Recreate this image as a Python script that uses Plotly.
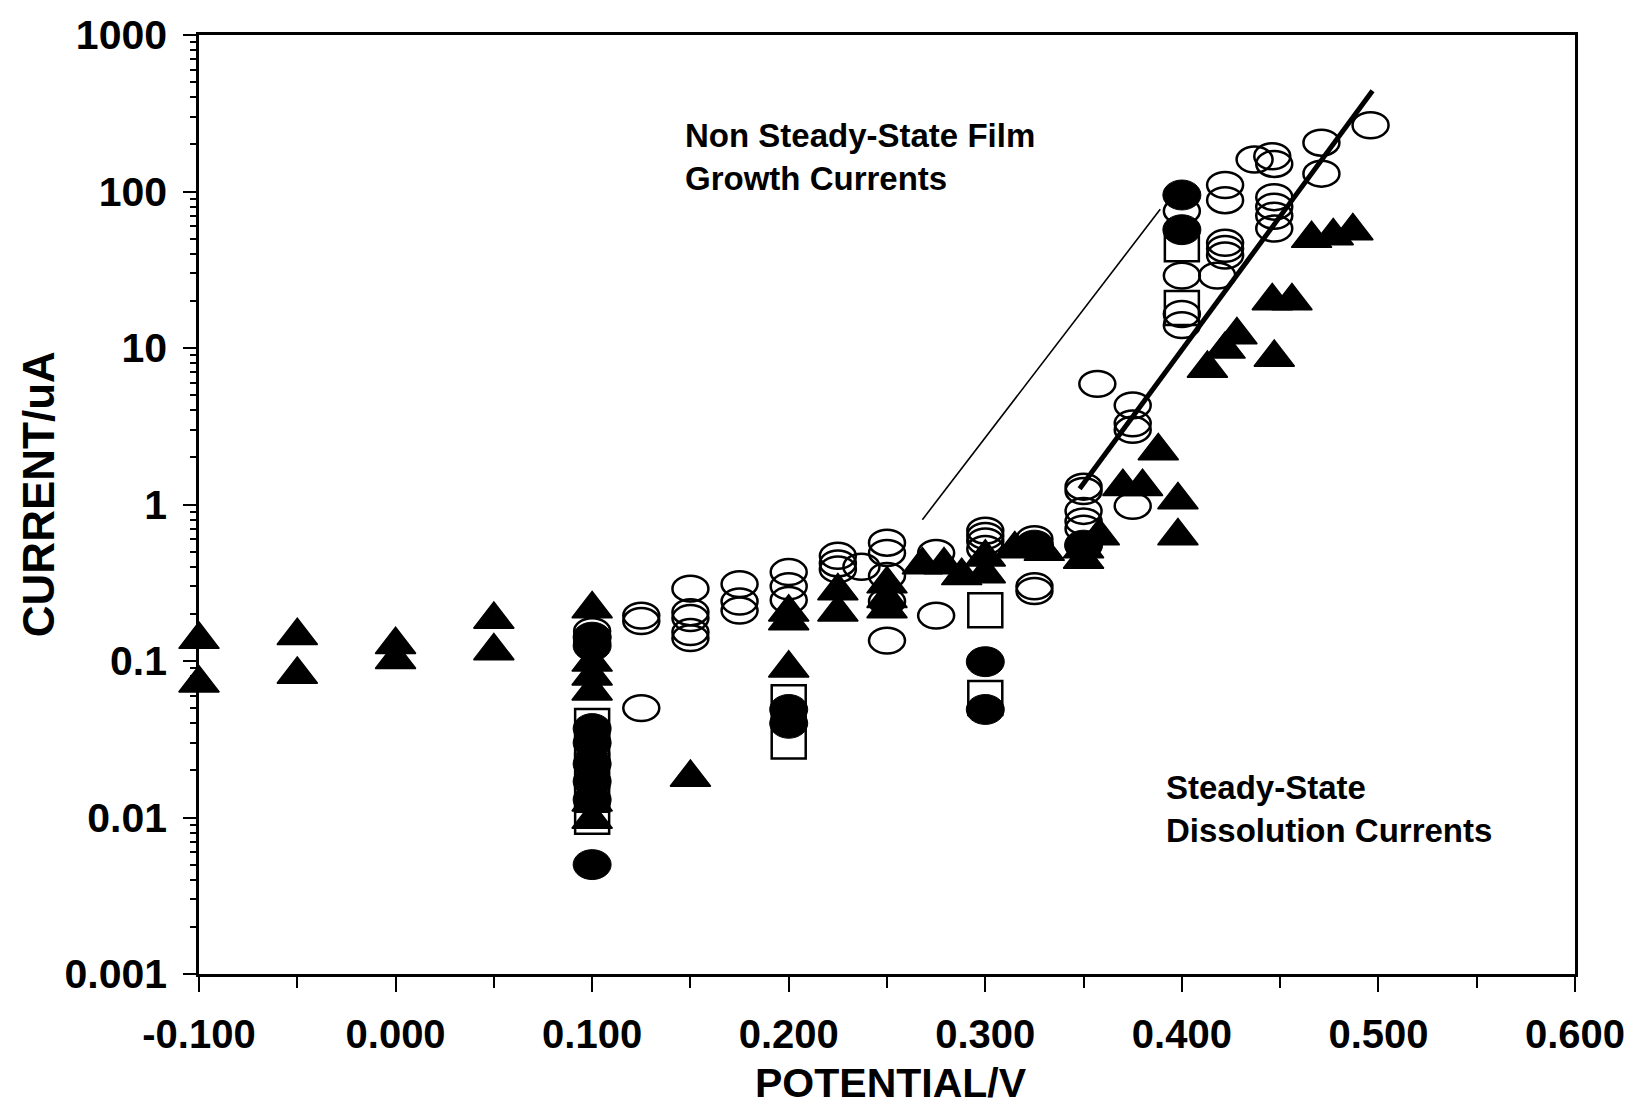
import plotly.graph_objects as go

# ---------------- data ----------------
# filled triangles
tri_v = [-0.1, -0.1, -0.05, -0.05, 0.0, 0.0, 0.05, 0.05,
         0.1, 0.1, 0.1, 0.1, 0.1, 0.1,
         0.15,
         0.2, 0.2, 0.2,
         0.225, 0.225,
         0.25, 0.25, 0.25,
         0.268, 0.279, 0.288,
         0.3, 0.3,
         0.315, 0.33,
         0.35, 0.35, 0.358,
         0.37, 0.38, 0.388,
         0.398, 0.398,
         0.413, 0.422, 0.428,
         0.447, 0.446, 0.456,
         0.466, 0.477, 0.487]
tri_i = [0.137, 0.072, 0.145, 0.082, 0.127, 0.102, 0.184, 0.116,
         0.215, 0.098, 0.080, 0.064, 0.0125, 0.0097,
         0.018,
         0.205, 0.18, 0.09,
         0.28, 0.205,
         0.31, 0.25, 0.215,
         0.41, 0.41, 0.35,
         0.46, 0.36,
         0.52, 0.50,
         0.52, 0.445, 0.63,
         1.3, 1.3, 2.2,
         1.07, 0.63,
         7.4, 9.8, 12.1,
         8.7, 20, 20,
         50, 52, 56]

# open ellipses
oell_v = [0.1, 0.1, 0.1,
          0.125, 0.125, 0.125,
          0.15, 0.15, 0.15, 0.15, 0.15,
          0.175, 0.175, 0.175,
          0.2, 0.2, 0.2,
          0.225, 0.225, 0.225,
          0.237,
          0.25, 0.25, 0.25, 0.25, 0.25,
          0.275, 0.275,
          0.3, 0.3, 0.3, 0.3,
          0.325, 0.325, 0.325, 0.325,
          0.35, 0.35, 0.35, 0.35, 0.35,
          0.357,
          0.375, 0.375, 0.375, 0.375,
          0.4, 0.4, 0.4, 0.4,
          0.418,
          0.422, 0.422, 0.422, 0.422, 0.422,
          0.437,
          0.446, 0.447, 0.447, 0.447, 0.447, 0.447,
          0.471, 0.471,
          0.496]
oell_i = [0.155, 0.142, 0.132,
          0.195, 0.18, 0.05,
          0.29, 0.205, 0.188, 0.153, 0.14,
          0.31, 0.24, 0.21,
          0.37, 0.30, 0.245,
          0.47, 0.42, 0.385,
          0.40,
          0.57, 0.49, 0.35, 0.24, 0.135,
          0.49, 0.195,
          0.68, 0.63, 0.58, 0.52,
          0.60, 0.55, 0.30, 0.28,
          1.3, 1.22, 0.91, 0.78, 0.70,
          5.9,
          4.3, 3.3, 3.0, 0.98,
          75, 29, 16.5, 14,
          29,
          110, 88, 47, 43, 39,
          160,
          168, 150, 92, 80, 70, 58,
          205, 130,
          265]

# filled ellipses
fell_v = [0.1, 0.1, 0.1, 0.1, 0.1, 0.1, 0.1, 0.1,
          0.2, 0.2,
          0.3, 0.3,
          0.325, 0.35,
          0.4, 0.4]
fell_i = [0.142, 0.125, 0.037, 0.030, 0.022, 0.017, 0.013, 0.005,
          0.049, 0.040,
          0.099, 0.049,
          0.55, 0.55,
          95, 57]

# open squares
sq_v = [0.1, 0.1, 0.1, 0.1, 0.1, 0.2, 0.2, 0.3, 0.3, 0.4, 0.4]
sq_i = [0.0385, 0.028, 0.02, 0.014, 0.0101, 0.0545, 0.0306, 0.211, 0.058, 46, 18]

# fitted lines
thin_v = [0.268, 0.389]
thin_i = [0.80, 77]
thick_v = [0.348, 0.497]
thick_i = [1.26, 440]

# axes
x_tick_vals = [-0.1, 0.0, 0.1, 0.2, 0.3, 0.4, 0.5, 0.6]
x_tick_text = ["-0.100", "0.000", "0.100", "0.200", "0.300", "0.400", "0.500", "0.600"]
x_minor_vals = [-0.05, 0.05, 0.15, 0.25, 0.35, 0.45, 0.55]
y_tick_vals = [0.001, 0.01, 0.1, 1, 10, 100, 1000]
y_tick_text = ["0.001", "0.01", "0.1", "1", "10", "100", "1000"]
y_minor_vals = [m * d for d in [0.001, 0.01, 0.1, 1, 10, 100] for m in range(2, 10)]

FONT = "Liberation Sans, Arial, Helvetica, sans-serif"

# layout geometry
W, H = 1637, 1109
M_L, M_R, M_T, M_B = 199, 53, 33, 135
PX_PER_DECADE = (H - M_T - M_B) / 6.0


def half_factor(px):
    # multiplicative factor on a log axis equal to `px` pixels
    return 10 ** (px / PX_PER_DECADE)


K_OPEN = half_factor(13)
K_FILL = half_factor(15)

fig = go.Figure()

fig.add_trace(go.Scatter(x=thin_v, y=thin_i, mode="lines",
                         line=dict(color="black", width=1.6),
                         showlegend=False, hoverinfo="skip"))
fig.add_trace(go.Scatter(x=thick_v, y=thick_i, mode="lines",
                         line=dict(color="black", width=5),
                         showlegend=False, hoverinfo="skip"))
fig.add_trace(go.Scatter(x=sq_v, y=sq_i, mode="markers", name="squares",
                         marker=dict(symbol="square-open", size=34, color="black",
                                     line=dict(color="black", width=2.5)),
                         cliponaxis=False, showlegend=False))
fig.add_trace(go.Scatter(x=tri_v, y=tri_i, mode="markers", name="triangles",
                         marker=dict(symbol="triangle-up", size=35, color="black",
                                     line=dict(color="black", width=1.5)),
                         cliponaxis=False, showlegend=False))

shapes = []
for v, i in zip(oell_v, oell_i):
    shapes.append(dict(type="circle", xref="x", yref="y",
                       xsizemode="pixel", xanchor=v, x0=-18, x1=18,
                       y0=i / K_OPEN, y1=i * K_OPEN,
                       line=dict(color="black", width=2.5),
                       fillcolor="rgba(0,0,0,0)", layer="above"))
for v, i in zip(fell_v, fell_i):
    shapes.append(dict(type="circle", xref="x", yref="y",
                       xsizemode="pixel", xanchor=v, x0=-19, x1=19,
                       y0=i / K_FILL, y1=i * K_FILL,
                       line=dict(color="black", width=1),
                       fillcolor="black", layer="above"))

annotations = [
    dict(text="Non Steady-State Film<br>Growth Currents", xref="x", yref="y",
         x=0.146, y=2.22, xanchor="left", yanchor="middle", align="left",
         showarrow=False, font=dict(family=FONT, size=33, color="black", weight="bold")),
    dict(text="Steady-State<br>Dissolution Currents", xref="x", yref="y",
         x=0.391, y=-1.943, xanchor="left", yanchor="middle", align="left",
         showarrow=False, font=dict(family=FONT, size=33, color="black", weight="bold")),
    dict(text="CURRENT/uA", xref="paper", yref="paper", x=-0.117, y=0.511,
         xanchor="center", yanchor="middle", textangle=-90, showarrow=False,
         font=dict(family=FONT, size=44, color="black", weight="bold")),
    dict(text="POTENTIAL/V", xref="paper", yref="paper", x=0.503, y=-0.116,
         xanchor="center", yanchor="middle", showarrow=False,
         font=dict(family=FONT, size=41, color="black", weight="bold")),
]

fig.update_layout(
    width=W, height=H,
    margin=dict(l=M_L, r=M_R, t=M_T, b=M_B),
    paper_bgcolor="white", plot_bgcolor="white",
    showlegend=False,
    shapes=shapes,
    annotations=annotations,
    font=dict(family=FONT, color="black"),
)

fig.update_xaxes(
    range=[-0.1, 0.6], tickmode="array", tickvals=x_tick_vals, ticktext=x_tick_text,
    ticks="outside", ticklen=15, tickwidth=2, tickcolor="black",
    ticklabelstandoff=8,
    minor=dict(tickmode="array", tickvals=x_minor_vals, ticks="outside",
               ticklen=11, tickwidth=1.5, tickcolor="black"),
    showline=True, linewidth=2.5, linecolor="black", mirror=True,
    showgrid=False, zeroline=False,
    tickfont=dict(family=FONT, size=40, color="black", weight="bold"),
)
fig.update_yaxes(
    type="log", range=[-3, 3], tickmode="array", tickvals=y_tick_vals, ticktext=y_tick_text,
    ticks="outside", ticklen=13, tickwidth=2, tickcolor="black",
    ticklabelstandoff=8,
    minor=dict(tickmode="array", tickvals=y_minor_vals, ticks="outside",
               ticklen=6, tickwidth=1.5, tickcolor="black"),
    showline=True, linewidth=2.5, linecolor="black", mirror=True,
    showgrid=False, zeroline=False,
    tickfont=dict(family=FONT, size=41, color="black", weight="bold"),
)

fig.write_html("out.html")
